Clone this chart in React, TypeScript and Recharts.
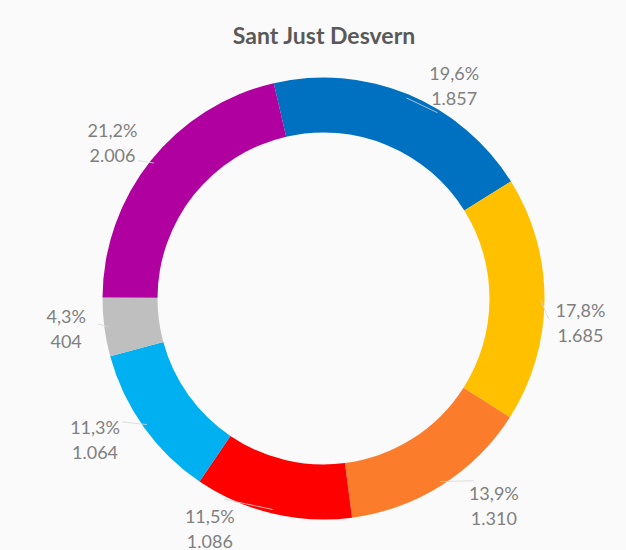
import { Cell, Pie, PieChart } from "recharts";

const parties = ["Blau", "Groc", "Taronja", "Vermell", "Blau cel", "Gris", "Porpra"];
const votes = [1857, 1685, 1310, 1086, 1064, 404, 2006];
const pctLabels = ["19,6%", "17,8%", "13,9%", "11,5%", "11,3%", "4,3%", "21,2%"];
const voteLabels = ["1.857", "1.685", "1.310", "1.086", "1.064", "404", "2.006"];

const colors = ["#0070c0", "#ffc000", "#fb7d2c", "#ff0000", "#00b0f0", "#bfbfbf", "#b0009f"];

// label placement tweaks: extra angle (deg, clockwise) and distance from centre
const labelPlace = [
  { da: 9, r: 250 },
  { da: 5, r: 258 },
  { da: -7, r: 268 },
  { da: 13, r: 256 },
  { da: 4, r: 268 },
  { da: 1, r: 259 },
  { da: -2, r: 263 },
];

const data = parties.map((name, i) => ({ name, value: votes[i] }));

const RAD = Math.PI / 180;
const CX = 323.5;
const CY = 298.5;
const OUTER = 221;
const INNER = 166;

function renderLabel(props: any) {
  const { cx, cy, midAngle, outerRadius, index } = props;
  const place = labelPlace[index];
  const ang = midAngle - place.da;
  const lx = cx + place.r * Math.cos(-ang * RAD);
  const ly = cy + place.r * Math.sin(-ang * RAD);
  const sx = cx + (outerRadius - 4) * Math.cos(-midAngle * RAD);
  const sy = cy + (outerRadius - 4) * Math.sin(-midAngle * RAD);
  const ex = cx + (place.r - 32) * Math.cos(-ang * RAD);
  const ey = cy + (place.r - 32) * Math.sin(-ang * RAD);
  return (
    <g key={`lbl-${index}`}>
      <line x1={sx} y1={sy} x2={ex} y2={ey} stroke="#d6d6d6" strokeWidth={0.8} />
      <text
        x={lx}
        y={ly}
        textAnchor="middle"
        fill="#7f7f7f"
        fontSize={18}
        fontFamily="Lato, 'Open Sans', sans-serif"
      >
        <tspan x={lx} dy={-5}>{pctLabels[index]}</tspan>
        <tspan x={lx} dy={25}>{voteLabels[index]}</tspan>
      </text>
    </g>
  );
}

export default function App() {
  return (
    <div
      style={{
        position: "absolute",
        left: 0,
        top: 0,
        width: 626,
        height: 550,
        background: "#fafafa",
      }}
    >
      <PieChart width={626} height={550} margin={{ top: 0, right: 0, bottom: 0, left: 0 }}>
        <text
          x={324}
          y={44}
          textAnchor="middle"
          fill="#595959"
          fontSize={23}
          fontWeight={700}
          fontFamily="Lato, 'Open Sans', sans-serif"
        >
          Sant Just Desvern
        </text>
        <Pie
          data={data}
          dataKey="value"
          nameKey="name"
          cx={CX}
          cy={CY}
          innerRadius={INNER}
          outerRadius={OUTER}
          startAngle={103}
          endAngle={-257}
          stroke="none"
          label={renderLabel}
          labelLine={false}
          isAnimationActive={false}
        >
          {data.map((d, i) => (
            <Cell key={d.name} fill={colors[i]} />
          ))}
        </Pie>
      </PieChart>
    </div>
  );
}
